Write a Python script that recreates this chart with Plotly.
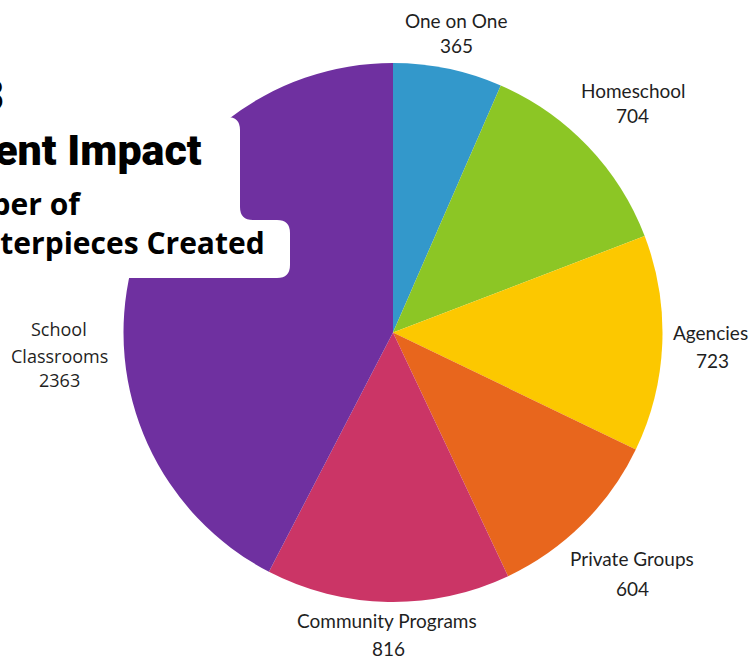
import plotly.graph_objects as go

W, H = 751, 656
OFF = 0  # body margin removed via post_script

# ---- data ----
categories = ["One on One", "Homeschool", "Agencies", "Private Groups",
              "Community Programs", "School Classrooms"]
values = [365, 704, 723, 604, 816, 2363]
label_lines = [["One on One"], ["Homeschool"], ["Agencies"], ["Private Groups"],
               ["Community Programs"], ["School", "Classrooms"]]
colors = ["#3398cb", "#8cc625", "#fcc800", "#e8661d", "#cb3566", "#6f30a0"]

title_lines = ["2023", "Student Impact", "Number of", "Masterpieces Created"]

# ---- layout helpers (screen pixel -> paper) ----
def px(x):
    return (x - OFF) / W

def py(y):
    return 1 - (y - OFF) / H

cx, cy, r = 393, 332.5, 269.5

fig = go.Figure(go.Pie(
    labels=categories,
    values=values,
    marker=dict(colors=colors, line=dict(width=0)),
    sort=False,
    direction="clockwise",
    rotation=0,
    textinfo="none",
    hoverinfo="label+value",
    domain=dict(x=[px(cx - r), px(cx + r)], y=[py(cy + r), py(cy - r)]),
))

annotations = []
# label positions (screen pixel centres) for each text line
label_pos = [
    [(456, 20), (456, 45)],
    [(633, 90), (632, 116)],
    [(710, 332), (712, 360)],
    [(632, 558), (632, 588)],
    [(387, 620), (388, 648)],
    [(59, 329), (59, 356), (59, 380)],
]
for i, (lines, val) in enumerate(zip(label_lines, values)):
    texts = lines + [str(val)]
    is_school = len(lines) > 1
    for t, (x, y) in zip(texts, label_pos[i]):
        annotations.append(dict(
            text=t, x=px(x), y=py(y), xref="paper", yref="paper",
            xanchor="center", yanchor="middle", showarrow=False,
            font=dict(family="Open Sans" if is_school else "Lato",
                      size=18 if is_school else 19, color="#1f1f1f"),
        ))

# title block (partially outside the left edge, as in the reference)
heavy = "Roboto, Inter, sans-serif"
title_specs = [
    (6, 96, heavy, 44, 900),
    (204, 150, heavy, 43, 900),
    (83, 203, "Open Sans", 30, 700),
    (267, 243, "Open Sans", 30, 700),
]
for t, (x, y, fam, sz, wt) in zip(title_lines, title_specs):
    annotations.append(dict(
        text=t, x=px(x), y=py(y), xref="paper", yref="paper",
        xanchor="right", yanchor="middle", showarrow=False,
        font=dict(family=fam, size=sz, color="#000000", weight=wt),
    ))

# white rounded panel behind the title
pts = [
    ("M", (-20, 117)), ("L", (227, 117)), ("Q", (240, 117), (240, 130)),
    ("L", (240, 207)), ("Q", (240, 220), (253, 220)), ("L", (277, 220)),
    ("Q", (290, 220), (290, 233)), ("L", (290, 265)), ("Q", (290, 278), (277, 278)),
    ("L", (-20, 278)),
]
path = ""
for p in pts:
    cmd = p[0]
    coords = " ".join(f"{px(x):.5f},{py(y):.5f}" for x, y in p[1:])
    path += f"{cmd} {coords} "
path += "Z"

fig.update_layout(
    width=W, height=H,
    margin=dict(l=0, r=0, t=0, b=0),
    paper_bgcolor="white", plot_bgcolor="white",
    showlegend=False,
    annotations=annotations,
    shapes=[dict(type="path", path=path, xref="paper", yref="paper",
                 fillcolor="white", line=dict(width=0), layer="above")],
)

fig.write_html(
    "out.html",
    config={"displayModeBar": False},
    post_script="document.body.style.margin='0';"
                "document.documentElement.style.overflow='hidden';"
                "document.body.style.overflow='hidden';",
)
